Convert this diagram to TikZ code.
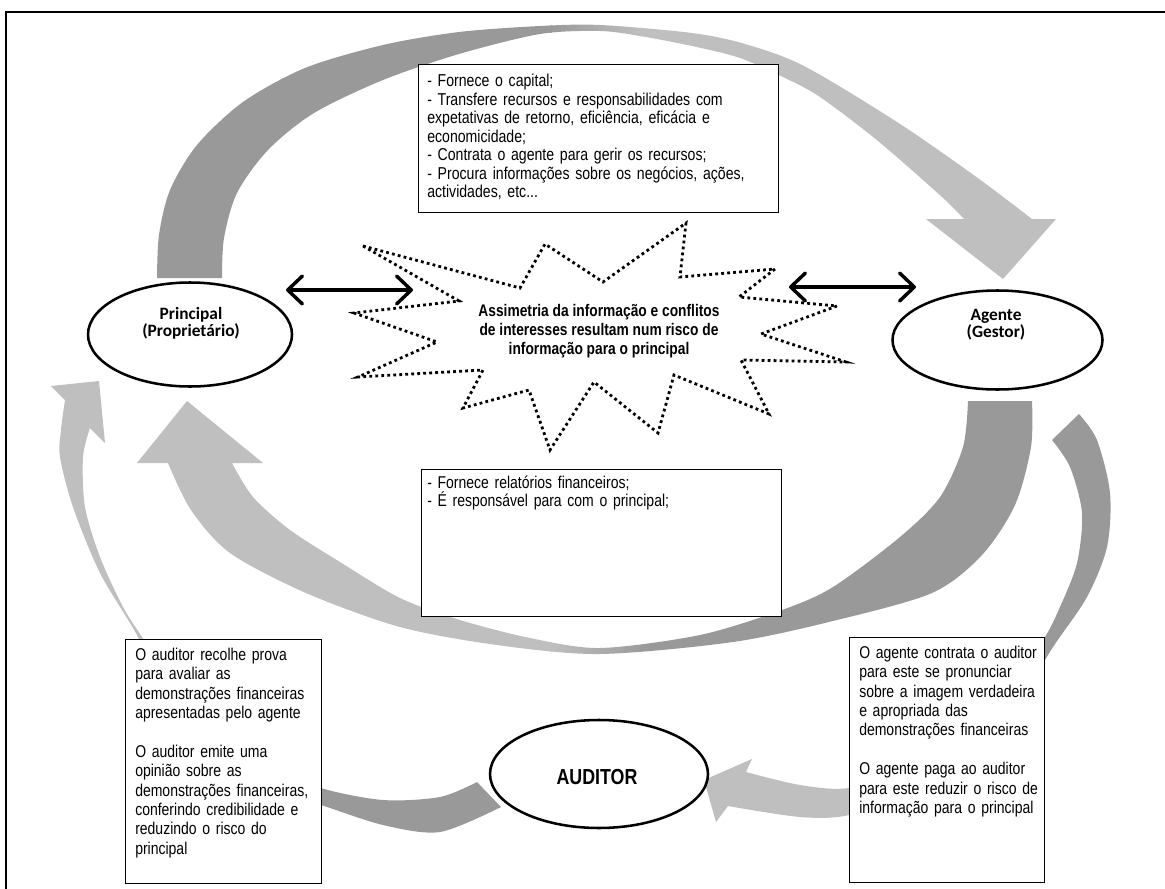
\documentclass[tikz,border=0pt]{standalone}
\usepackage{fontspec}
\setmainfont{Liberation Sans}
\newfontfamily\narrowfont{Liberation Sans}[FakeStretch=0.82]
\newfontfamily\calibfont{Carlito}
\usetikzlibrary{arrows.meta,shapes.geometric}
\definecolor{dk}{HTML}{999999}
\definecolor{lt}{HTML}{BFBFBF}
\newcommand{\firstline}{\vrule height 12pt depth 0pt width 0pt\relax}
\setlength{\lineskiplimit}{-20pt}
\tikzset{
  boxst/.style={draw=black, fill=white, line width=0.8pt, inner sep=0pt, anchor=north west},
  ellst/.style={ellipse, draw=black, fill=white, line width=1.9pt, inner sep=0pt},
  elltext/.style={align=center, inner sep=0pt, font=\calibfont\bfseries\fontsize{13}{12.75}\selectfont},
  toptext/.style={anchor=north west, inner sep=0pt, align=left, text width=260pt, font=\narrowfont\fontsize{12.9}{13.9}\selectfont},
  midtext/.style={anchor=north west, inner sep=0pt, align=left, text width=260pt, font=\narrowfont\fontsize{12.8}{12}\selectfont},
  bottext/.style={anchor=north west, inner sep=0pt, align=left, text width=170pt, font=\narrowfont\fontsize{12.8}{14.55}\selectfont},
  startext/.style={align=center, inner sep=0pt, font=\narrowfont\bfseries\fontsize{12.6}{14.25}\selectfont},
  audtext/.style={inner sep=0pt, font=\narrowfont\bfseries\fontsize{16.3}{18}\selectfont},
  starline/.style={draw=black, fill=white, line width=2.1pt, dash pattern=on 2.1pt off 2.4pt},
  dblarrow/.style={line width=2.6pt, {Straight Barb[length=11pt,width=21pt,round]}-{Straight Barb[length=11pt,width=21pt,round]}},
  frameline/.style={line width=1.8pt}
}
\begin{document}
\begin{tikzpicture}[x=0.75pt,y=-0.75pt]
\useasboundingbox (0,0) rectangle (1165,889);
\fill[white] (0,0) rectangle (1165,889);
% frame
\draw[frameline] (6,889) -- (6,12) -- (1165,12);

% top arc: Principal -> Agente
\begin{scope}
\clip plot[smooth] coordinates {(157,278) (159,235) (170,190) (197,145) (243,102) (305,68) (383,45) (459,32) (540,26) (600,25) (692,33) (745,44) (804,66) (897,122) (975,176) (1032,219)}
  -- (1056,219) -- (1003,279) -- (926,219)
  -- plot[smooth] coordinates {(964,219) (942,197) (878,141) (820,97) (785,78) (740,58) (692,46) (640,36) (600,31) (540,34) (459,54) (383,80) (314,113) (268,150) (237,193) (224,238) (222,278)}
  -- cycle;
\fill[dk] (0,0) rectangle (552,889);
\shade[left color=dk, right color=lt] (550,0) rectangle (642,889);
\fill[lt] (640,0) rectangle (1165,889);
\end{scope}

% bottom big arc: Agente -> Principal
\begin{scope}
\clip plot[smooth] coordinates {(1032,401) (1031,447) (1015,505) (982,555) (932,593) (833,621) (733,642) (600,654) (497,645) (400,627) (306,593) (230,553) (191,510) (168,463)}
  -- (137,463) -- (187,401) -- (263,463)
  -- plot[smooth] coordinates {(232,463) (253,497) (290,530) (340,562) (400,598) (460,620) (530,638) (600,648) (700,635) (782,610) (833,587) (900,537) (940,497) (963,447) (968,401)}
  -- cycle;
\fill[lt] (0,0) rectangle (552,889);
\shade[left color=lt, right color=dk] (550,0) rectangle (652,889);
\fill[dk] (650,0) rectangle (1165,889);
\end{scope}

% left small arc: Auditor -> Principal
\begin{scope}
\clip plot[smooth] coordinates {(477,782) (440,797) (383,800) (321,788) (270,765) (215,725) (170,680) (142,637) (123,607) (100,557) (85,507) (83,457) (90,428)}
  -- (105,443) -- (99,381) -- (51,386)
  -- plot[smooth] coordinates {(65,400) (61,430) (60,457) (73,507) (100,573) (138,637) (160,690) (215,752) (275,791) (321,805) (383,825) (440,832) (501,807)}
  -- cycle;
\fill[lt] (0,0) rectangle (1165,701);
\fill[dk] (0,700) rectangle (1165,889);
\end{scope}

% right small arc: Agente -> Auditor
\begin{scope}
\clip plot[smooth] coordinates {(1079,414) (1097,440) (1110,493) (1107,547) (1087,597) (1053,647) (1020,700) (975,750) (915,790) (849,815) (800,817) (728,806)}
  -- (716,822) -- (704,780) -- (752,759)
  -- plot[smooth] coordinates {(746,772) (800,785) (849,788) (905,768) (960,733) (1005,688) (1043,640) (1060,607) (1077,563) (1082,513) (1070,467) (1052,440)}
  -- cycle;
\fill[lt] (0,0) rectangle (931,889);
\fill[dk] (930,0) rectangle (1165,889);
\end{scope}

% boxes
\node[boxst, minimum width=270pt, minimum height=111pt] (tbox) at (418,64) {};
\node[boxst, minimum width=270pt, minimum height=110.25pt] (mbox) at (421,469) {};
\node[boxst, minimum width=147pt, minimum height=183pt] (lbox) at (125,639) {};
\node[boxst, minimum width=146.25pt, minimum height=183.75pt] (rbox) at (849,637) {};

\node[toptext] (ttxt) at (427,70.2) {\firstline- Fornece o capital;\\- Transfere recursos e responsabilidades com\\expetativas de retorno, eficiência, eficácia e\\economicidade;\\- Contrata o agente para gerir os recursos;\\- Procura informações sobre os negócios, ações,\\actividades, etc...};
\node[midtext] (mtxt) at (427,472.2) {\firstline- Fornece relatórios financeiros;\\- É responsável para com o principal;};
\node[bottext] (ltxt) at (135,646.4) {\strut O auditor recolhe prova\\para avaliar as\\demonstrações financeiras\\apresentadas pelo agente\\[14.55pt]O auditor emite uma\\opinião sobre as\\demonstrações financeiras,\\conferindo credibilidade e\\reduzindo o risco do\\principal};
\node[bottext] (rtxt) at (859,644.4) {\strut O agente contrata o auditor\\para este se pronunciar\\sobre a imagem verdadeira\\e apropriada das\\demonstrações financeiras\\[14.55pt]O agente paga ao auditor\\para este reduzir o risco de\\informação para o principal};

% ellipses
\node[ellst, minimum width=153pt, minimum height=78pt] (prin) at (190,334.5) {};
\node[ellst, minimum width=157.5pt, minimum height=74.25pt] (agen) at (997.5,340) {};
\node[ellst, minimum width=163.5pt, minimum height=81pt] (aud) at (599,774) {};
\node[elltext] (printxt) at (191,323.5) {Principal\\(Proprietário)};
\node[elltext] (agentxt) at (996,324.5) {Agente\\(Gestor)};
\node[audtext] (audtxt) at (597,777) {AUDITOR};

% starburst
\draw[starline] (363,246) -- (520,288) -- (545,244) -- (603,282) -- (686,223) -- (680,277) -- (775,269) -- (739,297) -- (837,306) -- (761,334) -- (846,362) -- (741,360) -- (769,414) -- (674,375) -- (658,433) -- (594,382) -- (550,450) -- (529,390) -- (463,408) -- (483,370) -- (358,377) -- (437,342) -- (354,313) -- (459,301) -- cycle;
\node[startext] (star) at (599,331) {Assimetria da informação e conflitos\\de interesses resultam num risco de\\informação para o principal};

% double arrows
\coordinate (la) at (286,290);
\coordinate (lb) at (413,290);
\coordinate (ra) at (789,287);
\coordinate (rb) at (916,287);
\draw[dblarrow] (la) -- (lb);
\draw[dblarrow] (ra) -- (rb);
\end{tikzpicture}
\end{document}
